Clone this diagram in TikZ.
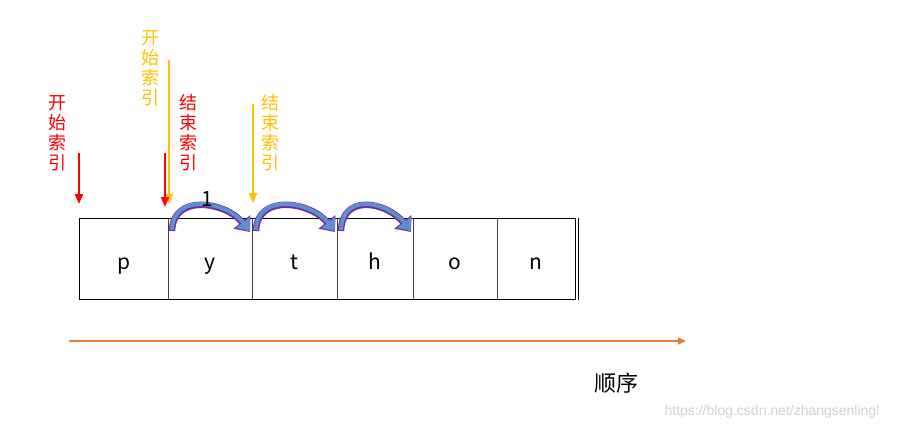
\documentclass[tikz,border=0pt]{standalone}
\usepackage{fontspec}
\newfontfamily\cjk{Noto Sans CJK SC}
\newfontfamily\wmfont{Liberation Sans}
\usetikzlibrary{arrows.meta,calc}
\definecolor{myred}{HTML}{FF0000}
\definecolor{myyellow}{HTML}{FFC000}
\definecolor{myorange}{HTML}{ED7D31}
\definecolor{arcblue}{HTML}{5B8FD0}
\definecolor{arcpurple}{HTML}{7030A0}
\begin{document}
\begin{tikzpicture}[x=1pt,y=-1pt,
  cell/.style={draw=black!75,line width=0.7pt,minimum height=81pt,inner sep=0pt,anchor=north west,font=\cjk\fontsize{21}{24}\selectfont,text height=22pt,text depth=0pt},
  vlabel/.style={align=center,inner sep=0pt,font=\cjk\fontsize{18}{20}\selectfont},
  ptr/.style={line width=2pt,-{Triangle[length=10pt,width=8pt]}},
  hopback/.style={draw=arcpurple,line width=6.5pt,-{Triangle[length=13pt,width=21pt]}},
  hopfront/.style={draw=arcblue,line width=4pt,-{Triangle[length=11pt,width=17pt]}}]
\useasboundingbox (0,0) rectangle (903,432);
% cells
\node[cell,minimum width=89pt] (p) at (79,218) {p};
\node[cell,minimum width=84pt] (y) at (168,218) {y};
\node[cell,minimum width=85pt] (t) at (252,218) {t};
\node[cell,minimum width=76pt] (h) at (337,218) {h};
\node[cell,minimum width=84pt] (o) at (413,218) {o};
\node[cell,minimum width=78pt] (n) at (497,218) {n};
\draw[line width=1pt] (p.north west) -- (n.north east) -- (n.south east) -- (p.south west) -- cycle;
\coordinate (endbar) at ($(n.north east)+(3,0)$);
\draw[line width=1pt] (endbar) -- ($(n.south east)+(3,0)$);
% pointer labels
\node[vlabel,text=myred] (rs) at (57,133) {开\\始\\索\\引};
\node[vlabel,text=myyellow] (ys) at (150,68) {开\\始\\索\\引};
\node[vlabel,text=myred] (re) at (188,133) {结\\束\\索\\引};
\node[vlabel,text=myyellow] (ye) at (270,133) {结\\束\\索\\引};
% pointer arrows
\coordinate (rs0) at (79,153); \coordinate (rs1) at (79,204);
\coordinate (ys0) at (169,60); \coordinate (ys1) at (169,204);
\coordinate (re0) at (165,153); \coordinate (re1) at (165,207);
\coordinate (ye0) at (253,104); \coordinate (ye1) at (253,203);
\draw[ptr,myred] (rs0) -- (rs1);
\draw[ptr,myyellow] (ys0) -- (ys1);
\draw[ptr,myred] (re0) -- (re1);
\draw[ptr,myyellow] (ye0) -- (ye1);
% hops
\foreach \a/\b in {y/t,t/h,h/o}{
  \draw[hopback] ($(\a.north west)+(4,13)$) .. controls +(1,-38) and +(-24,-30) .. ($(\b.north west)+(-2,14)$);
  \draw[hopfront] ($(\a.north west)+(4,12)$) .. controls +(1,-38) and +(-24,-30) .. ($(\b.north west)+(-2,13)$);
}
\node[font=\cjk\fontsize{21}{24}\selectfont,inner sep=0pt] (one) at (207,199) {1};
% order arrow
\coordinate (o0) at (69,341); \coordinate (o1) at (686,341);
\draw[myorange,line width=1.5pt,-{Triangle[length=8pt,width=7pt]}] (o0) -- (o1);
\node[font=\cjk\fontsize{22}{24}\selectfont,inner sep=0pt] (ord) at (616,383) {顺序};
\node[font=\wmfont\fontsize{14}{16}\selectfont,text=black!18,inner sep=0pt] (wm) at (772,412) {https://blog.csdn.net/zhangsenlingl};
\end{tikzpicture}
\end{document}
